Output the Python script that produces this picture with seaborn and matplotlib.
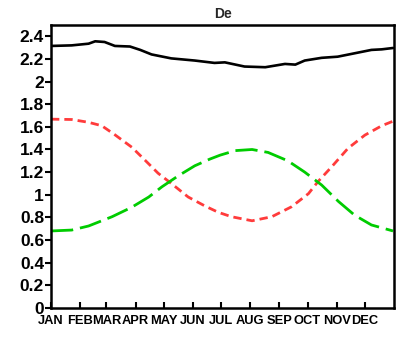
import numpy as np
import pandas as pd
import matplotlib
matplotlib.use("Agg")
import matplotlib.pyplot as plt
import seaborn as sns

# day-of-year positions and values
black_day = [0, 22, 40, 47, 57, 68, 84, 95, 107, 128, 153, 174, 185, 206, 228, 249, 260, 270, 288, 305, 323, 341, 352, 364]
black_val = [2.315, 2.32, 2.335, 2.356, 2.35, 2.315, 2.31, 2.28, 2.24, 2.205, 2.186, 2.165, 2.17, 2.133, 2.127, 2.156, 2.15, 2.186, 2.21, 2.22, 2.25, 2.28, 2.285, 2.297]

red_day = [0, 22, 40, 54, 68, 86, 100, 114, 128, 146, 164, 178, 192, 214, 235, 256, 274, 284, 299, 316, 334, 352, 364]
red_val = [1.668, 1.665, 1.64, 1.61, 1.53, 1.42, 1.306, 1.19, 1.10, 0.98, 0.90, 0.845, 0.806, 0.77, 0.806, 0.894, 1.01, 1.115, 1.25, 1.41, 1.527, 1.61, 1.65]

green_day = [0, 22, 40, 65, 86, 104, 118, 135, 153, 169, 180, 196, 214, 231, 252, 270, 288, 306, 323, 341, 364]
green_val = [0.68, 0.688, 0.724, 0.806, 0.89, 0.98, 1.07, 1.165, 1.256, 1.315, 1.35, 1.39, 1.40, 1.374, 1.30, 1.20, 1.086, 0.94, 0.82, 0.733, 0.68]

month_labels = ["JAN", "FEB", "MAR", "APR", "MAY", "JUN", "JUL", "AUG", "SEP", "OCT", "NOV", "DEC"]
month_start = [0, 31, 59, 90, 120, 151, 181, 212, 243, 273, 304, 334]
y_ticks = [0, 0.2, 0.4, 0.6, 0.8, 1, 1.2, 1.4, 1.6, 1.8, 2, 2.2, 2.4]

sns.set_style("ticks")
plt.rcParams['font.family'] = ['Liberation Sans', 'DejaVu Sans']

fig = plt.figure(figsize=(4, 3.38), dpi=100)
ax = fig.add_axes([0.1275, 0.089, 0.8575, 0.837])

sns.lineplot(x=black_day, y=black_val, ax=ax, color="black", lw=1.9)
sns.lineplot(x=red_day, y=red_val, ax=ax, color="#ff3b3b", lw=2.0, dashes=False)
sns.lineplot(x=green_day, y=green_val, ax=ax, color="#00cc00", lw=2.0, dashes=False)
ax.lines[1].set_dashes([3, 1.8])
ax.lines[2].set_dashes([8, 2.5])

ax.set_xlim(0, 365)
ax.set_ylim(0, 2.5)
ax.set_xticks(month_start)
ax.set_xticklabels(month_labels, fontsize=9.3, fontweight="bold")
ax.set_yticks(y_ticks)
ax.set_yticklabels(["%g" % v for v in y_ticks], fontsize=12.5, fontweight="bold")
ax.tick_params(axis="x", direction="in", length=4, width=1.5, pad=5, colors="black")
ax.tick_params(axis="y", direction="out", length=4, width=1.5, pad=1, colors="black")
for s in ax.spines.values():
    s.set_linewidth(1.8)
    s.set_color("black")
    s.set_visible(True)
ax.set_title("De", fontsize=10, fontweight="bold", pad=5)

fig.savefig("out.png", dpi=100)
